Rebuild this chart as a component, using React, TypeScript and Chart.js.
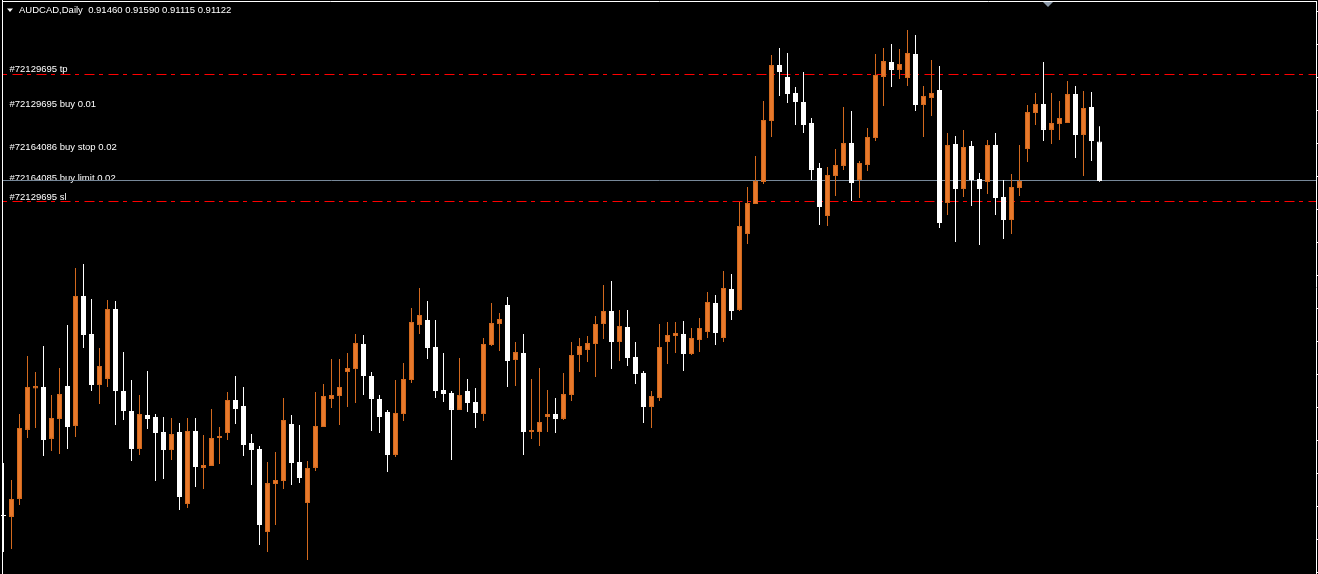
import React, { useEffect, useRef } from "react";
import { Chart, registerables } from "chart.js";

Chart.register(...registerables);

const HEADER = "AUDCAD,Daily  0.91460 0.91590 0.91115 0.91122";

const OPEN = [
  0.88267, 0.8825, 0.88404, 0.88994, 0.89348, 0.89361, 0.88917, 0.89088, 0.8937, 0.89028,
  0.90139, 0.89814, 0.89378, 0.8943, 0.90028, 0.89327, 0.89156, 0.88831, 0.89122, 0.89105,
  0.88976, 0.88822, 0.88976, 0.88361, 0.88985, 0.88669, 0.88686, 0.88925, 0.88968, 0.8925,
  0.89199, 0.88882, 0.88831, 0.88121, 0.88532, 0.88557, 0.89045, 0.8872, 0.88369, 0.88669,
  0.89019, 0.89259, 0.89284, 0.89489, 0.89515, 0.89729, 0.89455, 0.89259, 0.89147, 0.8878,
  0.8913, 0.89421, 0.89891, 0.89934, 0.89703, 0.89336, 0.8931, 0.89165, 0.89327, 0.89233,
  0.8913, 0.8972, 0.899, 0.90062, 0.89592, 0.89652, 0.88976, 0.88976, 0.89105, 0.8913,
  0.89088, 0.89293, 0.89635, 0.89678, 0.89729, 0.899, 0.90011, 0.89746, 0.89874, 0.89618,
  0.89481, 0.8919, 0.89267, 0.89746, 0.89797, 0.89814, 0.89643, 0.89763, 0.89831, 0.90079,
  0.8978, 0.90199, 0.9002, 0.90669, 0.90926, 0.91114, 0.91635, 0.92114, 0.92012, 0.91875,
  0.91798, 0.91618, 0.91234, 0.90823, 0.91165, 0.91251, 0.91447, 0.91131, 0.91259, 0.9149,
  0.92012, 0.9214, 0.92072, 0.92003, 0.92208, 0.91772, 0.91832, 0.91901, 0.90934, 0.91439,
  0.91054, 0.91422, 0.9114, 0.91114, 0.9143, 0.90986, 0.90789, 0.91063, 0.91396, 0.91704,
  0.91781, 0.91559, 0.9161, 0.91618, 0.91866, 0.91516, 0.91755, 0.9146,
];
const HIGH = [
  0.88711, 0.88566, 0.8913, 0.89626, 0.89489, 0.89712, 0.89293, 0.89524, 0.89891, 0.90379,
  0.90413, 0.90114, 0.89695, 0.90105, 0.90096, 0.8966, 0.89421, 0.89293, 0.89498, 0.8913,
  0.89105, 0.89096, 0.89053, 0.89096, 0.89096, 0.88951, 0.89173, 0.89019, 0.89318, 0.89455,
  0.89361, 0.88959, 0.88857, 0.8872, 0.88805, 0.89267, 0.89122, 0.89036, 0.88728, 0.89318,
  0.89387, 0.89601, 0.89601, 0.89652, 0.89814, 0.89806, 0.89489, 0.89293, 0.89165, 0.89421,
  0.89566, 0.90037, 0.90208, 0.90096, 0.89934, 0.89652, 0.89327, 0.89609, 0.8943, 0.89353,
  0.8978, 0.90079, 0.89994, 0.90131, 0.89746, 0.89814, 0.8943, 0.89524, 0.89336, 0.89267,
  0.89481, 0.89746, 0.8978, 0.89797, 0.89968, 0.90233, 0.90267, 0.9002, 0.9002, 0.89746,
  0.89498, 0.89327, 0.899, 0.89917, 0.89917, 0.89925, 0.89866, 0.89951, 0.90173, 0.90148,
  0.90353, 0.90327, 0.90943, 0.91071, 0.91336, 0.91806, 0.922, 0.9226, 0.92217, 0.91926,
  0.92054, 0.91661, 0.91276, 0.91242, 0.91396, 0.91755, 0.91721, 0.91293, 0.91576, 0.92208,
  0.9226, 0.92294, 0.92251, 0.92414, 0.92371, 0.91935, 0.92157, 0.92106, 0.91533, 0.91507,
  0.91559, 0.91464, 0.91191, 0.91473, 0.91533, 0.91131, 0.91182, 0.9143, 0.91772, 0.91875,
  0.9214, 0.91875, 0.91806, 0.91977, 0.91935, 0.91892, 0.91883, 0.9159,
];
const LOW = [
  0.8795, 0.87976, 0.88352, 0.88925, 0.89011, 0.88771, 0.88814, 0.88788, 0.88831, 0.88934,
  0.89695, 0.89327, 0.89216, 0.89361, 0.89036, 0.89079, 0.88728, 0.8878, 0.89002, 0.88557,
  0.88575, 0.88737, 0.88309, 0.88327, 0.88506, 0.88489, 0.88686, 0.88703, 0.88908, 0.89045,
  0.88771, 0.88523, 0.8801, 0.8795, 0.88181, 0.88489, 0.88523, 0.8854, 0.87882, 0.88643,
  0.89019, 0.89182, 0.89036, 0.8919, 0.89224, 0.89293, 0.88985, 0.88968, 0.88634, 0.88763,
  0.8907, 0.89395, 0.89814, 0.89601, 0.89267, 0.89233, 0.88737, 0.89165, 0.89147, 0.89011,
  0.8907, 0.89712, 0.89669, 0.89361, 0.8937, 0.8878, 0.88917, 0.88857, 0.88976, 0.88968,
  0.89079, 0.89241, 0.89489, 0.89575, 0.89447, 0.89772, 0.89515, 0.89583, 0.89541, 0.89387,
  0.89053, 0.89011, 0.89241, 0.89558, 0.89652, 0.89498, 0.89635, 0.8966, 0.8978, 0.8972,
  0.89746, 0.89934, 0.90011, 0.90584, 0.90926, 0.91097, 0.91499, 0.91849, 0.91789, 0.91601,
  0.91533, 0.91131, 0.90746, 0.90738, 0.90994, 0.91217, 0.90951, 0.90977, 0.91208, 0.91464,
  0.91764, 0.91926, 0.91995, 0.91935, 0.91721, 0.91499, 0.91678, 0.90721, 0.90832, 0.90601,
  0.90986, 0.90909, 0.90575, 0.91011, 0.90832, 0.90627, 0.90669, 0.90994, 0.91285, 0.91601,
  0.91464, 0.91439, 0.91473, 0.91618, 0.91319, 0.91165, 0.91293, 0.91115,
];
const CLOSE = [
  0.88258, 0.88404, 0.89011, 0.89361, 0.8937, 0.88908, 0.89096, 0.89301, 0.89019, 0.90139,
  0.89806, 0.89378, 0.89541, 0.90028, 0.89327, 0.89156, 0.88831, 0.8913, 0.89088, 0.88968,
  0.88822, 0.88959, 0.88421, 0.88985, 0.88677, 0.88694, 0.88925, 0.88942, 0.8925, 0.89173,
  0.88865, 0.88822, 0.88181, 0.8854, 0.88566, 0.89079, 0.88711, 0.88583, 0.88669, 0.89028,
  0.89284, 0.89293, 0.89361, 0.89524, 0.89737, 0.89455, 0.89259, 0.89105, 0.8878, 0.89139,
  0.8943, 0.89917, 0.89977, 0.89695, 0.89327, 0.89301, 0.89165, 0.89293, 0.89224, 0.89139,
  0.89729, 0.89908, 0.89943, 0.89583, 0.8966, 0.88976, 0.88994, 0.89062, 0.8913, 0.89088,
  0.89301, 0.89635, 0.89712, 0.89737, 0.899, 0.90011, 0.89746, 0.89883, 0.89609, 0.89472,
  0.8919, 0.89284, 0.89703, 0.89806, 0.89823, 0.89643, 0.8978, 0.89866, 0.90088, 0.89823,
  0.90208, 0.90011, 0.90738, 0.90934, 0.91122, 0.91644, 0.92114, 0.92054, 0.91866, 0.91798,
  0.91601, 0.91217, 0.909, 0.91174, 0.91259, 0.91447, 0.91105, 0.91276, 0.91499, 0.92029,
  0.92148, 0.92072, 0.92123, 0.92217, 0.91772, 0.91849, 0.91875, 0.90763, 0.9143, 0.91054,
  0.91413, 0.91131, 0.91054, 0.9143, 0.90977, 0.90789, 0.91071, 0.91122, 0.91712, 0.91781,
  0.91559, 0.91618, 0.91661, 0.91866, 0.91516, 0.91747, 0.91464, 0.91122,
];

const ORDER_LABELS = [
  "#72129695 tp",
  "#72129695 buy 0.01",
  "#72164086 buy stop 0.02",
  "#72164085 buy limit 0.02",
  "#72129695 sl",
];
const ORDER_PRICES = [0.92033, 0.91734, 0.91366, 0.91101, 0.90939];
const TP_PRICE = 0.92033;
const SL_PRICE = 0.90939;
const BID_PRICE = 0.91122;

const AXIS_TICKS = [
  0.92572, 0.9229, 0.92007, 0.91725, 0.91443, 0.91161, 0.90879, 0.90597, 0.90314,
  0.90032, 0.8975, 0.89468, 0.89186, 0.88904, 0.88622, 0.88339, 0.88057, 0.87775,
];

const W = 1318;
const H = 574;
const Y_MAX = 0.9267;
const Y_MIN = 0.877623;
const X_MIN = -0.4375;
const X_MAX = 164.3125;
const SHIFT_INDEX = 130.5;

const UP_FILL = "#E8792B";
const UP_EDGE = "#D2691E";
const DN_FILL = "#FFFFFF";
const FONT = '9.5px "Liberation Sans", Arial, sans-serif';

const decorPlugin = {
  id: "mtDecor",
  beforeDatasetsDraw(chart: any) {
    const ctx = chart.ctx;
    const y = chart.scales.y;
    const right = 1316;
    ctx.save();
    ctx.font = FONT;
    ctx.fillStyle = "#FFFFFF";
    ctx.textBaseline = "alphabetic";
    ORDER_LABELS.forEach((t, i) => {
      const py = Math.floor(y.getPixelForValue(ORDER_PRICES[i])) - 2;
      ctx.fillText(t, 9.5, py);
    });
    const by = Math.floor(y.getPixelForValue(BID_PRICE) - 0.5) + 0.5;
    ctx.strokeStyle = "#778899";
    ctx.lineWidth = 1;
    ctx.beginPath();
    ctx.moveTo(3, by);
    ctx.lineTo(right, by);
    ctx.stroke();
    ctx.strokeStyle = "#FF0000";
    ctx.setLineDash([4, 5.5, 10, 4.5]);
    [TP_PRICE, SL_PRICE].forEach((p) => {
      const ly = Math.floor(y.getPixelForValue(p) - 0.5) + 0.5;
      ctx.beginPath();
      ctx.moveTo(3, ly);
      ctx.lineTo(right, ly);
      ctx.stroke();
    });
    ctx.restore();
  },
  afterDraw(chart: any) {
    const ctx = chart.ctx;
    const y = chart.scales.y;
    const x = chart.scales.x;
    ctx.save();
    ctx.strokeStyle = "#FFFFFF";
    ctx.lineWidth = 1;
    ctx.beginPath();
    ctx.moveTo(2.5, 0);
    ctx.lineTo(2.5, H);
    ctx.moveTo(2, 1.5);
    ctx.lineTo(1317, 1.5);
    ctx.moveTo(1316.5, 1);
    ctx.lineTo(1316.5, H);
    AXIS_TICKS.forEach((p) => {
      const ty = Math.floor(y.getPixelForValue(p)) + 0.5;
      ctx.moveTo(1316, ty);
      ctx.lineTo(1318, ty);
    });
    ctx.stroke();
    ctx.fillStyle = "#FFFFFF";
    ctx.beginPath();
    ctx.moveTo(7, 8.5);
    ctx.lineTo(13, 8.5);
    ctx.lineTo(10, 12);
    ctx.closePath();
    ctx.fill();
    ctx.font = FONT;
    ctx.textBaseline = "alphabetic";
    ctx.fillText(HEADER, 19, 12.5);
    const sx = Math.round(x.getPixelForValue(SHIFT_INDEX));
    ctx.fillStyle = "#8A98A8";
    ctx.beginPath();
    ctx.moveTo(sx - 5, 2);
    ctx.lineTo(sx + 5, 2);
    ctx.lineTo(sx, 7);
    ctx.closePath();
    ctx.fill();
    ctx.restore();
  },
};

export default function App() {
  const ref = useRef<HTMLCanvasElement | null>(null);

  useEffect(() => {
    document.body.style.margin = "0";
    document.body.style.background = "#000";
    const canvas = ref.current;
    if (!canvas) return;
    const idx = OPEN.map((_, i) => i);
    const up = idx.map((i) => CLOSE[i] >= OPEN[i]);
    const chart = new Chart(canvas, {
      type: "bar",
      data: {
        datasets: [
          {
            label: "wick",
            data: idx.map((i) => ({ x: i, y: [LOW[i], HIGH[i]] })) as any,
            backgroundColor: up.map((u) => (u ? UP_EDGE : DN_FILL)),
            borderWidth: 0,
            barThickness: 1,
            grouped: false,
            inflateAmount: 0,
            order: 2,
          } as any,
          {
            label: "body",
            data: idx.map((i) => ({ x: i, y: [OPEN[i], CLOSE[i]] })) as any,
            backgroundColor: up.map((u) => (u ? UP_FILL : DN_FILL)),
            borderColor: up.map((u) => (u ? UP_EDGE : DN_FILL)),
            borderWidth: 1,
            borderSkipped: false,
            barThickness: 5,
            grouped: false,
            inflateAmount: 0,
            order: 1,
          } as any,
        ],
      },
      options: {
        responsive: false,
        animation: false,
        devicePixelRatio: 1,
        layout: { padding: 0 },
        plugins: {
          legend: { display: false },
          tooltip: { enabled: false },
        },
        scales: {
          x: { type: "linear", min: X_MIN, max: X_MAX, display: false, offset: false },
          y: { type: "linear", min: Y_MIN, max: Y_MAX, display: false },
        },
      },
      plugins: [decorPlugin],
    });
    return () => chart.destroy();
  }, []);

  return (
    <div style={{ position: "fixed", left: 0, top: 0, width: W, height: H, background: "#000" }}>
      <canvas ref={ref} width={W} height={H} style={{ display: "block", width: W, height: H }} />
    </div>
  );
}
